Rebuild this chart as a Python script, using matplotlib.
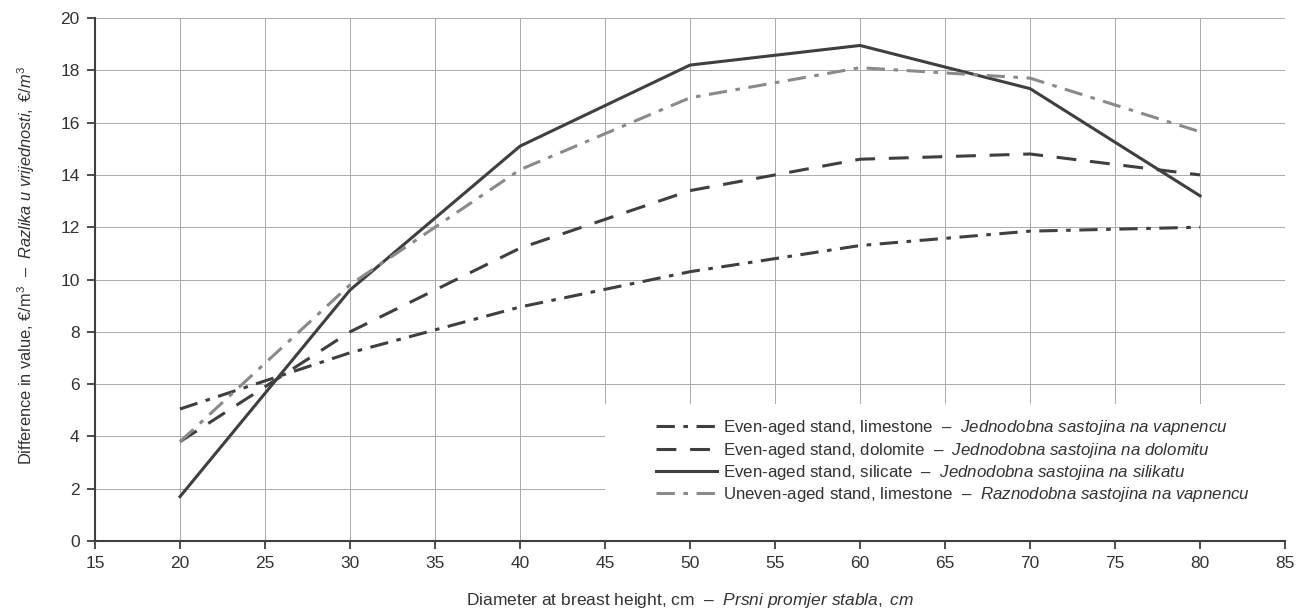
import matplotlib
matplotlib.use("Agg")
import matplotlib.pyplot as plt
from matplotlib.patches import Rectangle

plt.rcParams['font.family'] = ['Liberation Sans', 'DejaVu Sans']
plt.rcParams['mathtext.fontset'] = 'custom'
plt.rcParams['mathtext.rm'] = 'Liberation Sans'
plt.rcParams['mathtext.it'] = 'Liberation Sans:italic'

# data
dbh = [20, 30, 40, 50, 60, 70, 80]
even_limestone = [5.05, 7.2, 8.95, 10.3, 11.3, 11.85, 12.0]
even_dolomite = [3.8, 8.0, 11.2, 13.4, 14.6, 14.8, 14.0]
even_silicate = [1.7, 9.6, 15.1, 18.2, 18.95, 17.3, 13.2]
uneven_limestone = [3.8, 9.8, 14.2, 16.95, 18.1, 17.7, 15.65]

labels = [
    r"Even-aged stand, limestone  –  $\mathit{Jednodobna\ sastojina\ na\ vapnencu}$",
    r"Even-aged stand, dolomite  –  $\mathit{Jednodobna\ sastojina\ na\ dolomitu}$",
    r"Even-aged stand, silicate  –  $\mathit{Jednodobna\ sastojina\ na\ silikatu}$",
    r"Uneven-aged stand, limestone  –  $\mathit{Raznodobna\ sastojina\ na\ vapnencu}$",
]

dark = '#3f3f3f'
gray = '#8a8a8a'
txt = '#333333'
fs = 12.5

fig = plt.figure(figsize=(13.07, 6.10), dpi=100)
ax = fig.add_axes([0.0727, 0.113, 0.9105, 0.8575])

dashdot = (0, (6, 2.8, 1.5, 2.8))
ax.plot(dbh, even_limestone, color=dark, lw=2.2, ls=dashdot, label=labels[0], zorder=3)
ax.plot(dbh, even_dolomite, color=dark, lw=2.2, ls=(0, (6.5, 4.5)), label=labels[1], zorder=3)
ax.plot(dbh, even_silicate, color=dark, lw=2.2, ls='-', label=labels[2], zorder=3)
ax.plot(dbh, uneven_limestone, color=gray, lw=2.2, ls=dashdot, label=labels[3], zorder=3)

ax.set_xlim(15, 85)
ax.set_ylim(0, 20)
ax.set_xticks(range(15, 90, 5))
ax.set_yticks(range(0, 22, 2))

# grid: vertical lines only 20..80, horizontal 2..20
for x in range(20, 85, 5):
    ax.axvline(x, color='#aaaaaa', lw=0.7, zorder=0.5)
for y in range(2, 22, 2):
    ax.axhline(y, color='#aaaaaa', lw=0.7, zorder=0.5)

# white box behind legend
ax.add_patch(Rectangle((0.4286, 0.0), 0.5714, 0.262, transform=ax.transAxes,
                       facecolor='white', edgecolor='none', zorder=1))

for s in ['top', 'right']:
    ax.spines[s].set_visible(False)
for s in ['left', 'bottom']:
    ax.spines[s].set_color(dark)
    ax.spines[s].set_linewidth(1.5)
    ax.spines[s].set_zorder(4)
ax.tick_params(direction='out', length=6, width=1.3, color=dark,
               labelsize=fs, labelcolor=txt, pad=5)

ax.set_xlabel(r"Diameter at breast height, cm  –  $\mathit{Prsni\ promjer\ stabla,\ cm}$",
              fontsize=fs, color=txt, labelpad=14)
ax.set_ylabel(r"Difference in value, €/m$^3$  –  $\mathit{Razlika\ u\ vrijednosti,\ €/m^3}$",
              fontsize=11.8, color=txt)
ax.yaxis.set_label_coords(-0.049, 0.528)

leg = ax.legend(loc='upper left', bbox_to_anchor=(0.466, 0.248), frameon=False,
                fontsize=12.2, handlelength=3.6, handletextpad=0.35,
                labelspacing=0.2, borderaxespad=0)
for t in leg.get_texts():
    t.set_color(txt)

fig.savefig('out.png', dpi=100)
